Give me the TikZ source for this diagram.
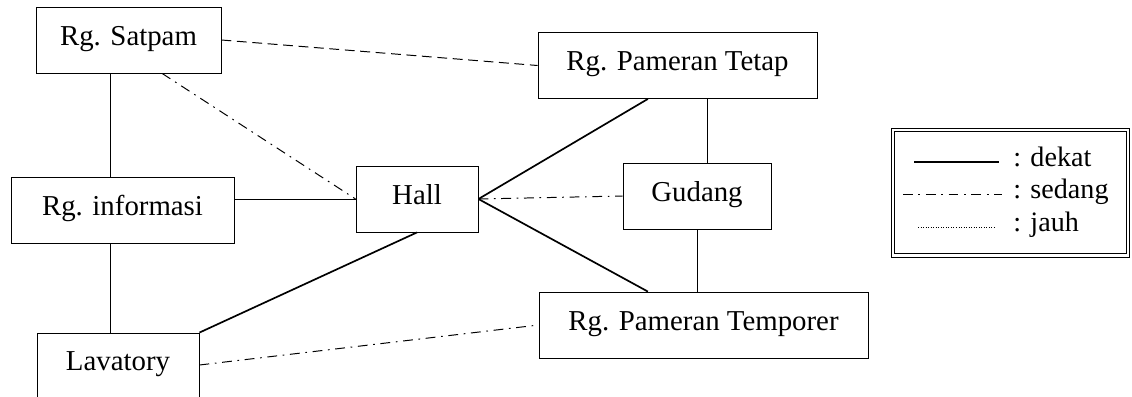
\documentclass[tikz,border=0pt]{standalone}
\usepackage{fontspec}
\setmainfont{Liberation Serif}
\usetikzlibrary{calc}
\tikzset{
  room/.style     = {draw, line width=0.6pt, inner sep=0pt, minimum height=1.65cm,
                     font=\fontsize{20.5}{24}\selectfont, text height=0.55cm, text depth=0.3cm},
  thinwire/.style = {line width=0.6pt},
  dekat/.style    = {line width=1.2pt},
  sedang/.style   = {line width=0.7pt, dash pattern=on 7pt off 4pt on 1.2pt off 4pt},
  jauh/.style     = {line width=0.5pt, dash pattern=on 0.6pt off 1.2pt},
  putus/.style    = {line width=0.7pt, dash pattern=on 7pt off 4pt},
  legtext/.style  = {anchor=west, inner sep=0pt, font=\fontsize{20}{24}\selectfont,
                     text height=0.5cm, text depth=0.3cm},
}

\begin{document}
\begin{tikzpicture}[x=0.025cm,y=-0.025cm]
  \useasboundingbox (0,0) rectangle (1132,396);
  \clip (0,0) rectangle (1132,396);

  % rooms
  \node[room, minimum width=4.625cm] (satpam) at (128.5,40)  {Rg. Satpam};
  \node[room, minimum width=6.975cm] (tetap)  at (677.5,65.5) {Rg. Pameran Tetap};
  \node[room, minimum width=5.575cm] (info)   at (122.5,210) {Rg. informasi};
  \node[room, minimum width=3.05cm]  (hall)   at (417,199)   {Hall};
  \node[room, minimum width=3.7cm]   (gudang) at (697,196)   {Gudang};
  \node[room, minimum width=8.225cm] (temp)   at (703.5,325) {Rg. Pameran Temporer};
  \node[room, minimum width=4.05cm, minimum height=1.6cm] (lav) at (118,365) {Lavatory};

  % relations
  \draw[putus]  (satpam.east) -- (tetap.west);
  \draw[sedang] ([xshift=0.84cm]satpam.south) -- (hall.west);
  \draw[thinwire] ([xshift=-0.46cm]satpam.south) coordinate (s1) -- (s1 |- info.north);
  \draw[thinwire] (info.east |- hall.west) -- (hall.west);
  \draw[thinwire] ([xshift=-0.31cm]info.south) coordinate (i1) -- (i1 |- lav.north);
  \draw[dekat]  (lav.north east) -- (hall.south);
  \draw[sedang] (lav.east) -- (temp.west);
  \draw[dekat]  (hall.east) -- ([xshift=-0.74cm]tetap.south);
  \draw[sedang] (hall.east) -- (gudang.west);
  \draw[dekat]  (hall.east) -- ([xshift=-1.39cm]temp.north);
  \draw[thinwire] ([xshift=0.76cm]tetap.south) coordinate (t1) -- (t1 |- gudang.north);
  \draw[thinwire] (gudang.south) -- (gudang.south |- temp.north);

  % legend
  \node[draw, double, double distance=2pt, line width=0.5pt,
        minimum width=5.875cm, minimum height=3.14cm] (legend) at (1010.5,192.75) {};
  \foreach \sty/\y/\xa/\xb in {dekat/162/914/999, sedang/194/903/1002, jauh/227/918/995} {
    \draw[\sty] (\xa,\y) -- (\xb,\y);
    \node[legtext] (leg-\sty) at (1013,\y) {: \sty};
  }
\end{tikzpicture}
\end{document}
